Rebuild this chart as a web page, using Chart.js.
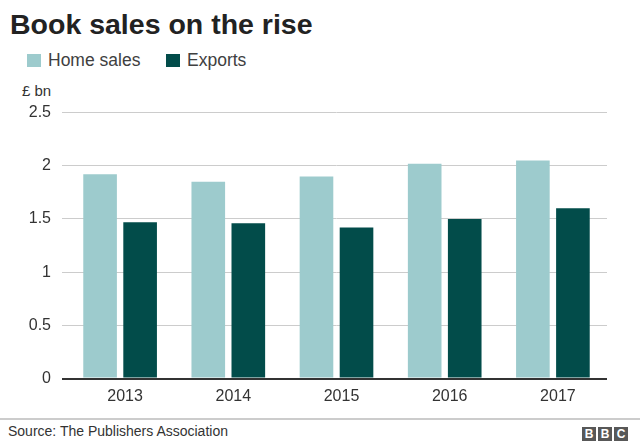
<!DOCTYPE html>
<html>
<head>
<meta charset="utf-8">
<script src="https://cdn.jsdelivr.net/npm/chart.js@4/dist/chart.umd.min.js"></script>
<style>
  body { margin: 0; width: 640px; height: 447px; background: #fff; font-family: "Liberation Sans", Arial, sans-serif; position: relative; overflow: hidden; }
  .title { position: absolute; left: 10px; top: 8px; font-size: 28.5px; font-weight: bold; color: #222; }
  .legend { position: absolute; top: 50px; font-size: 17.5px; color: #404040; }
  .legend span.box { display: inline-block; width: 14px; height: 13px; vertical-align: -1px; margin-right: 7px; }
  .unit { position: absolute; left: 22px; top: 82px; font-size: 15px; color: #333; }
  #wrap { position: absolute; left: 0; top: 92px; width: 640px; height: 318px; }
  .rule { position: absolute; left: 0; top: 418px; width: 640px; height: 2px; background: #ccc; }
  .source { position: absolute; left: 8px; top: 423px; font-size: 14px; color: #333; }
  .bbc { position: absolute; left: 582px; top: 424px; }
  .bbc span { display: inline-block; width: 14px; height: 14px; margin-right: 2px; background: #585858; color: #fff; font-weight: bold; font-size: 12px; line-height: 14px; text-align: center; }
</style>
</head>
<body>
<div class="title">Book sales on the rise</div>
<div class="legend" style="left:27px"><span class="box" style="background:#9dcbcd"></span>Home sales</div>
<div class="legend" style="left:166px"><span class="box" style="background:#024c4a"></span>Exports</div>
<div class="unit">£ bn</div>
<div id="wrap"><canvas id="chart"></canvas></div>
<div class="rule"></div>
<div class="source">Source: The Publishers Association</div>
<div class="bbc"><span>B</span><span>B</span><span>C</span></div>

<script>
const years = ['2013', '2014', '2015', '2016', '2017'];
const homeSales = [1.92, 1.85, 1.90, 2.02, 2.05];
const exportSales = [1.47, 1.46, 1.42, 1.50, 1.60];
const yTicks = [0, 0.5, 1, 1.5, 2, 2.5];
const yTickLabels = ['0', '0.5', '1', '1.5', '2', '2.5'];

const ctx = document.getElementById('chart').getContext('2d');
new Chart(ctx, {
    type: 'bar',
    data: {
        labels: years,
        datasets: [{
            label: 'Home sales',
            data: homeSales,
            backgroundColor: '#9dcbcd',
            categoryPercentage: 0.74,
            barPercentage: 0.84
        }, {
            label: 'Exports',
            data: exportSales,
            backgroundColor: '#024c4a',
            categoryPercentage: 0.74,
            barPercentage: 0.84
        }]
    },
    options: {
        responsive: true,
        maintainAspectRatio: false,
        animation: false,
        layout: { padding: { top: 0, right: 33, left: 0, bottom: 0 } },
        plugins: {
            legend: { display: false },
            tooltip: { enabled: false }
        },
        scales: {
            x: {
                grid: { display: false, drawTicks: false },
                border: { display: false },
                ticks: {
                    color: '#333',
                    padding: 8,
                    labelOffset: 5,
                    font: { family: 'Liberation Sans', size: 16 }
                },
                afterFit: (scale) => { scale.height = 31.5; }
            },
            y: {
                min: 0,
                max: 2.5,
                afterBuildTicks: (scale) => { scale.ticks = yTicks.map(v => ({ value: v })); },
                grid: {
                    color: (c) => c.tick && c.tick.value === 0 ? '#333' : '#cccccc',
                    lineWidth: (c) => c.tick && c.tick.value === 0 ? 2 : 1,
                    tickLength: 4
                },
                border: { display: false },
                ticks: {
                    color: '#333',
                    padding: 11,
                    font: { family: 'Liberation Sans', size: 16 },
                    callback: (v) => yTickLabels[yTicks.indexOf(v)]
                },
                afterFit: (scale) => { scale.width = 66; }
            }
        }
    }
});
</script>
</body>
</html>
